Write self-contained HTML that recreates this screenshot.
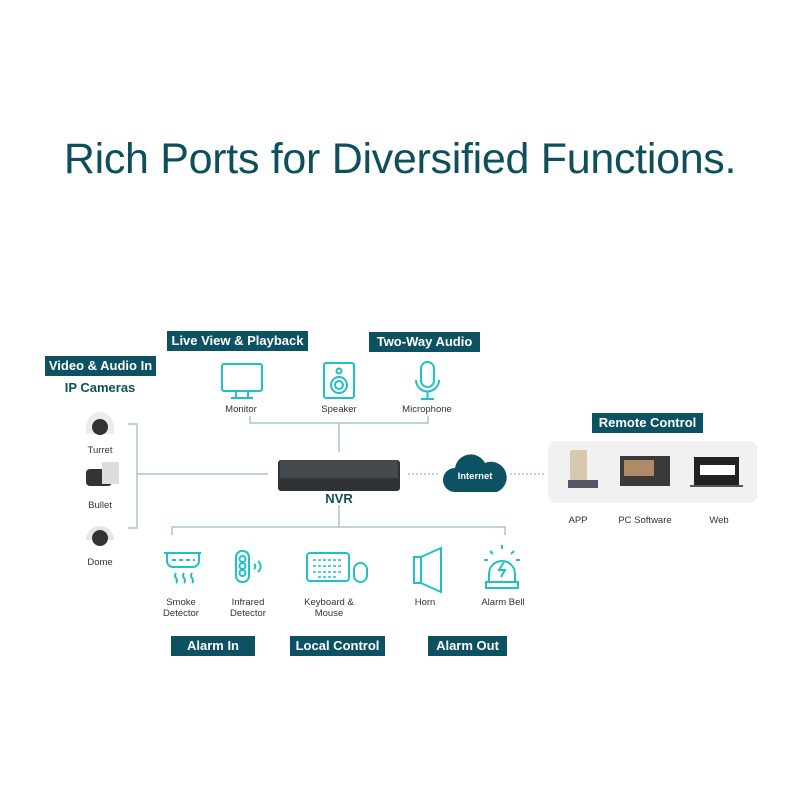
<!DOCTYPE html>
<html><head><meta charset="utf-8"><style>
body{margin:0;width:800px;height:800px;background:#fff;position:relative;overflow:hidden;font-family:"Liberation Sans",sans-serif;color:#222}
.t{position:absolute;left:0;width:800px;top:135px;text-align:center;font-size:43px;color:#0e4f5c;letter-spacing:-0.3px}
.lb{position:absolute;background:#0d5262;color:#fff;font-size:13px;font-weight:bold;text-align:center;line-height:20px;height:20px}
.tx{position:absolute;font-size:9.5px;text-align:center;color:#333;line-height:11px}
svg{position:absolute;left:0;top:0}
</style></head><body>
<div class="t">Rich Ports for Diversified Functions.</div>
<div class="lb" style="left:167px;top:331px;width:141px">Live View &amp; Playback</div>
<div class="lb" style="left:369px;top:332px;width:111px">Two-Way Audio</div>
<div class="lb" style="left:45px;top:356px;width:111px">Video &amp; Audio In</div>
<div class="lb" style="left:592px;top:413px;width:111px">Remote Control</div>
<div class="lb" style="left:171px;top:636px;width:84px">Alarm In</div>
<div class="lb" style="left:290px;top:636px;width:95px">Local Control</div>
<div class="lb" style="left:428px;top:636px;width:79px">Alarm Out</div>
<div style="position:absolute;left:40px;width:120px;top:380px;text-align:center;font-size:13px;font-weight:bold;color:#0e4f5c">IP Cameras</div>
<div style="position:absolute;left:548px;top:441px;width:209px;height:62px;background:#f1f1f1;border-radius:8px"></div>
<svg width="800" height="800" viewBox="0 0 800 800">
<g stroke="#a8c6cd" stroke-width="1.5" fill="none">
<path d="M250 416V423H428V416M339 423V452"/>
<path d="M128 424H137V528H128M137 474H268"/>
<path d="M339 505V527M172 535V527H505V535"/>
<path d="M408 474H440M510 474H545" stroke-dasharray="2 2"/>
</g>
<g stroke="#1fc1c6" stroke-width="2" fill="none">
<rect x="222" y="364" width="40" height="27" rx="2"/><path d="M236 391v6M248 391v6M231 398h22"/>
<rect x="324" y="363" width="30" height="35" rx="2"/><circle cx="339" cy="385" r="8"/><circle cx="339" cy="385" r="4"/><circle cx="339" cy="371" r="2.5"/>
<rect x="421" y="362" width="13" height="25" rx="6.5"/><path d="M416 380a11 11 0 0 0 23 0M427.5 391v8M421 399h13"/>
<path d="M164 553h37M167 553v8a6 6 0 0 0 6 6h20a6 6 0 0 0 6-6v-8M172 560h4M179 560h4M186 560h4M193 560h2M176 573q-2 3 0 5q2 3 0 5M184 573q-2 3 0 5q2 3 0 5M192 573q-2 3 0 5q2 3 0 5"/>
<rect x="236" y="551" width="13" height="31" rx="6"/><circle cx="242.5" cy="559" r="3"/><circle cx="242.5" cy="566" r="3"/><circle cx="242.5" cy="573" r="3"/><path d="M254 564a3 3 0 0 1 0 5M258 561a7 7 0 0 1 0 11"/>
<rect x="307" y="553" width="42" height="28" rx="3"/><path d="M313 560h30M313 566h30M313 572h30M318 577h20" stroke-dasharray="3 2" stroke-width="1.5"/><rect x="354" y="563" width="13" height="19" rx="6.5"/>
<path d="M414 557h7v26h-7zM421 557l20-9v44l-20-9"/>
<path d="M489 574a13 13 0 0 1 26 0v8h-26zM486 582h32v6h-32zM504 562l-5 8h6l-4 7M502 545v4M490 551l3 3M514 551l-3 3M484 560h4M520 560h-4"/>
</g>
<rect x="278" y="460" width="122" height="31" rx="3" fill="#2f3336"/><rect x="280" y="460" width="118" height="18" fill="#44494d"/>
<path d="M455 492a12 12 0 0 1 0-24a16 16 0 0 1 30-5a14 14 0 0 1 12 29z" fill="#0d5262"/>
<text x="475" y="479" font-size="9.5" font-weight="bold" fill="#fff" text-anchor="middle" font-family="Liberation Sans">Internet</text>
<g><path d="M86 428a14 16 0 0 1 28 0v6h-28z" fill="#ececec"/><circle cx="100" cy="427" r="8" fill="#333"/>
<rect x="86" y="469" width="26" height="17" rx="4" fill="#333"/><rect x="102" y="462" width="17" height="22" fill="#ddd"/>
<path d="M86 540a14 14 0 0 1 28 0z" fill="#e6e6e6"/><circle cx="100" cy="538" r="8" fill="#333"/></g>
<rect x="570" y="450" width="17" height="30" rx="2" fill="#d9c8b0"/><rect x="568" y="480" width="30" height="8" fill="#556"/>
<rect x="620" y="456" width="50" height="30" fill="#3a3a3a"/><rect x="624" y="460" width="30" height="16" fill="#b08a64"/>
<rect x="694" y="457" width="45" height="28" fill="#222"/><rect x="700" y="465" width="35" height="10" fill="#fff"/><rect x="690" y="485" width="53" height="2" fill="#555"/>
</svg>
<div style="position:absolute;left:278px;width:122px;top:491px;text-align:center;font-size:13px;font-weight:bold;color:#0e4f5c">NVR</div>
<div class="tx" style="left:211px;width:60px;top:404px">Monitor</div>
<div class="tx" style="left:309px;width:60px;top:404px">Speaker</div>
<div class="tx" style="left:392px;width:70px;top:404px">Microphone</div>
<div class="tx" style="left:70px;width:60px;top:445px">Turret</div>
<div class="tx" style="left:70px;width:60px;top:500px">Bullet</div>
<div class="tx" style="left:70px;width:60px;top:557px">Dome</div>
<div class="tx" style="left:548px;width:60px;top:515px">APP</div>
<div class="tx" style="left:605px;width:80px;top:515px">PC Software</div>
<div class="tx" style="left:689px;width:60px;top:515px">Web</div>
<div class="tx" style="left:151px;width:60px;top:597px">Smoke<br>Detector</div>
<div class="tx" style="left:218px;width:60px;top:597px">Infrared<br>Detector</div>
<div class="tx" style="left:294px;width:70px;top:597px">Keyboard &amp;<br>Mouse</div>
<div class="tx" style="left:395px;width:60px;top:597px">Horn</div>
<div class="tx" style="left:472px;width:62px;top:597px">Alarm Bell</div>
</body></html>
